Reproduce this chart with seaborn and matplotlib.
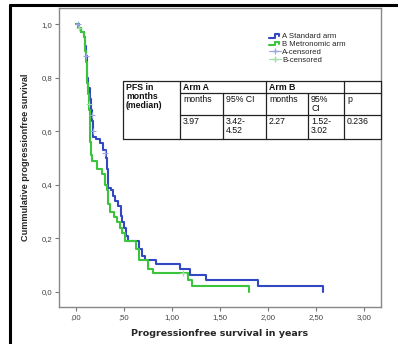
import matplotlib
matplotlib.use("Agg")
import matplotlib.pyplot as plt
from matplotlib.legend_handler import HandlerBase
from matplotlib.lines import Line2D
import seaborn as sns
import pandas as pd

# Kaplan-Meier steps (years, survival after the step)
arm_a_time = [0.00, 0.03, 0.05, 0.085, 0.09, 0.10, 0.11, 0.12, 0.13, 0.15, 0.16,
              0.17, 0.175, 0.18, 0.21, 0.25, 0.28, 0.31, 0.32, 0.33, 0.335, 0.36,
              0.39, 0.41, 0.44, 0.47, 0.48, 0.50, 0.52, 0.54, 0.66, 0.69, 0.72,
              0.83, 1.08, 1.19, 1.36, 1.90, 2.58]
arm_a_surv = [1.00, 0.985, 0.97, 0.95, 0.92, 0.88, 0.84, 0.80, 0.76, 0.72, 0.68,
              0.64, 0.60, 0.58, 0.57, 0.555, 0.53, 0.50, 0.46, 0.42, 0.39, 0.38,
              0.36, 0.34, 0.32, 0.285, 0.26, 0.24, 0.21, 0.19, 0.16, 0.135, 0.12,
              0.105, 0.085, 0.065, 0.045, 0.022, 0.0]

arm_b_time = [0.00, 0.02, 0.05, 0.08, 0.09, 0.10, 0.11, 0.12, 0.13, 0.14, 0.145,
              0.15, 0.155, 0.17, 0.22, 0.27, 0.30, 0.32, 0.33, 0.35, 0.40, 0.43,
              0.46, 0.48, 0.51, 0.63, 0.66, 0.75, 0.80, 1.17, 1.21, 1.80]
arm_b_surv = [1.00, 0.985, 0.97, 0.95, 0.90, 0.86, 0.82, 0.78, 0.74, 0.68, 0.62,
              0.56, 0.51, 0.49, 0.46, 0.44, 0.40, 0.38, 0.33, 0.30, 0.28, 0.26,
              0.24, 0.22, 0.19, 0.16, 0.12, 0.085, 0.07, 0.045, 0.022, 0.0]

# censored observations
cens_a_time = [0.02, 0.10, 0.17, 0.18, 0.30]
cens_a_surv = [1.00, 0.88, 0.66, 0.60, 0.52]
cens_b_time = [0.03, 0.14, 1.12]
cens_b_surv = [0.985, 0.70, 0.07]

y_ticks = [0.0, 0.2, 0.4, 0.6, 0.8, 1.0]
y_tick_labels = ["0,0", "0,2", "0,4", "0,6", "0,8", "1,0"]
x_ticks = [0.0, 0.5, 1.0, 1.5, 2.0, 2.5, 3.0]
x_tick_labels = [",00", ",50", "1,00", "1,50", "2,00", "2,50", "3,00"]

table_header = ["Arm A", "Arm B"]
table_sub = ["months", "95% CI", "months", "95%\nCI", "p"]
table_vals = ["3.97", "3.42-\n4.52", "2.27", "1.52-\n3.02", "0.236"]

blue = "#3248c2"
green = "#3cc43c"
blue_c = "#9aa6e0"
green_c = "#9fe09f"

sns.set_style("white")
plt.rcParams["font.family"] = ["Liberation Sans", "DejaVu Sans"]

fig = plt.figure(figsize=(3.98, 3.44), dpi=100)
ax = fig.add_axes([59 / 398, 1 - 307 / 344, 322 / 398, 299 / 344])

df_a = pd.DataFrame({"t": arm_a_time, "s": arm_a_surv})
df_b = pd.DataFrame({"t": arm_b_time, "s": arm_b_surv})
sns.lineplot(data=df_a, x="t", y="s", drawstyle="steps-post", estimator=None,
             sort=False, color=blue, lw=1.5, ax=ax)
sns.lineplot(data=df_b, x="t", y="s", drawstyle="steps-post", estimator=None,
             sort=False, color=green, lw=1.5, ax=ax)
sns.scatterplot(x=cens_a_time, y=cens_a_surv, marker="+", color=blue_c, s=18,
                linewidth=0.8, ax=ax, zorder=3)
sns.scatterplot(x=cens_b_time, y=cens_b_surv, marker="+", color=green_c, s=18,
                linewidth=0.8, ax=ax, zorder=3)

ax.set_xlim(-0.177, 3.18)
ax.set_ylim(-0.056, 1.06)
ax.set_yticks(y_ticks)
ax.set_yticklabels(y_tick_labels)
ax.set_xticks(x_ticks)
ax.set_xticklabels(x_tick_labels)
ax.tick_params(axis="both", labelsize=5.6, labelcolor="#444444", color="#777777",
               length=3, width=0.8, direction="out", left=True, bottom=True, pad=2)
for sp in ax.spines.values():
    sp.set_color("#888888")
    sp.set_linewidth(1.0)

ax.set_xlabel("Progressionfree survival in years", fontsize=6.8, fontweight="bold",
              family="DejaVu Sans", labelpad=6)
ax.set_ylabel("Cummulative progressionfree survival", fontsize=6.6,
              fontweight="bold", labelpad=8)


# legend with step-shaped icons
class StepHandler(HandlerBase):
    def create_artists(self, legend, orig, xd, yd, w, h, fontsize, trans):
        xs = [xd, xd + 0.45 * w, xd + 0.45 * w, xd + 0.85 * w, xd + 0.85 * w]
        ys = [yd + 0.15 * h, yd + 0.15 * h, yd + 0.85 * h, yd + 0.85 * h, yd + 0.4 * h]
        ln = Line2D(xs, ys, color=orig.get_color(), lw=1.5, transform=trans)
        return [ln]


handles = [Line2D([], [], color=blue), Line2D([], [], color=green),
           Line2D([], [], color=blue_c, marker="+", lw=0.8, ms=5),
           Line2D([], [], color=green_c, marker="+", lw=0.8, ms=5)]
labels = ["A Standard arm", "B Metronomic arm", "A-censored", "B-censored"]
ax.legend(handles, labels, loc="upper left", bbox_to_anchor=(0.635, 0.935),
          frameon=False, fontsize=5.6, handlelength=1.6, handletextpad=0.1,
          labelspacing=0.05, borderpad=0.2,
          handler_map={handles[0]: StepHandler(), handles[1]: StepHandler()})

# table of medians
def fx(px):
    return (px - 59) / 322


def fy(py):
    return (307 - py) / 299


cols = [123, 180, 223, 266, 308, 344, 381]
rows = [81, 93, 115, 139]
tr = ax.transAxes
ax.add_patch(plt.Rectangle((fx(cols[0]), fy(rows[-1])), fx(cols[-1]) - fx(cols[0]),
                           fy(rows[0]) - fy(rows[-1]), transform=tr,
                           facecolor="white", edgecolor="none", zorder=4))
lk = dict(transform=tr, color="#222222", lw=0.9, zorder=5, clip_on=False)
for r in [rows[0], rows[-1]]:
    ax.plot([fx(cols[0]), fx(cols[-1])], [fy(r), fy(r)], **lk)
for r in rows[1:3]:
    ax.plot([fx(cols[1]), fx(cols[-1])], [fy(r), fy(r)], **lk)
for c in [cols[0], cols[1], cols[3], cols[5], cols[6]]:
    ax.plot([fx(c), fx(c)], [fy(rows[0]), fy(rows[-1])], **lk)
for c in [cols[2], cols[4]]:
    ax.plot([fx(c), fx(c)], [fy(rows[1]), fy(rows[-1])], **lk)

tk = dict(transform=tr, fontsize=6.3, va="top", ha="left", zorder=6,
          linespacing=1.0, color="#111111")
ax.text(fx(cols[0] + 3), fy(rows[0] + 2), "PFS in\nmonths\n(median)",
        fontweight="bold", **tk)
ax.text(fx(cols[1] + 3), fy(rows[0] + 2), table_header[0], fontweight="bold", **tk)
ax.text(fx(cols[3] + 3), fy(rows[0] + 2), table_header[1], fontweight="bold", **tk)
for i, c in enumerate(cols[1:6]):
    ax.text(fx(c + 3), fy(rows[1] + 2), table_sub[i], **tk)
    ax.text(fx(c + 3), fy(rows[2] + 2), table_vals[i], **tk)

# outer black frame of the figure (left and top)
fig.add_artist(Line2D([10 / 398, 10 / 398], [0, 1 - 5 / 344], color="black",
                      lw=2.2, transform=fig.transFigure))
fig.add_artist(Line2D([10 / 398, 1], [1 - 5 / 344, 1 - 5 / 344], color="black",
                      lw=2.2, transform=fig.transFigure))

fig.savefig("out.png", dpi=100)
